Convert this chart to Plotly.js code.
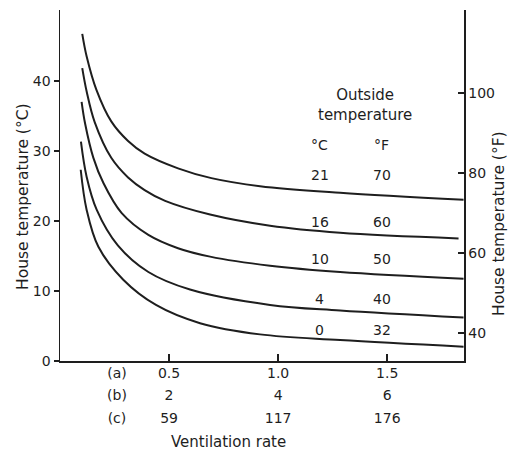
<!DOCTYPE html>
<html>
<head>
<meta charset="utf-8">
<script src="https://cdn.plot.ly/plotly-3.0.1.min.js"></script>
<style>html,body{margin:0;padding:0;background:#fff;}#chart{width:508px;height:453px;}</style>
</head>
<body>
<div id="chart"></div>
<script>
// ---- data ----
// Ventilation rate (row a units) and house temperature (°C) for each outside temperature
const outsideC = [21, 16, 10, 4, 0];
const outsideF = [70, 60, 50, 40, 32];

const x21 = [0.102, 0.122, 0.167, 0.235, 0.312, 0.388, 0.541, 0.694, 0.917, 1.284, 1.85];
const y21 = [46.7, 43.5, 38.7, 34.2, 31.4, 29.6, 27.5, 26.1, 24.95, 24.0, 23.0];
const x16 = [0.102, 0.122, 0.159, 0.235, 0.312, 0.388, 0.482, 0.688, 0.963, 1.284, 1.827];
const y16 = [41.8, 38.5, 34.1, 29.0, 26.2, 24.4, 22.85, 20.9, 19.3, 18.3, 17.5];
const x10 = [0.099, 0.115, 0.153, 0.199, 0.283, 0.405, 0.541, 0.688, 0.963, 1.284, 1.85];
const y10 = [37.0, 33.9, 29.0, 25.4, 21.1, 18.0, 16.1, 14.9, 13.6, 12.7, 11.75];
const x4 = [0.096, 0.122, 0.168, 0.265, 0.405, 0.596, 0.963, 1.284, 1.85];
const y4 = [31.3, 26.3, 21.6, 16.5, 12.7, 10.2, 8.0, 7.2, 6.2];
const x0 = [0.095, 0.122, 0.176, 0.29, 0.44, 0.642, 0.917, 1.284, 1.85];
const y0 = [27.3, 21.6, 16.3, 11.6, 8.0, 5.4, 3.8, 3.0, 2.05];

// x tick values and the three rows of tick labels
const xTickVals = [0.5, 1.0, 1.5];
const rowA = ["0.5", "1.0", "1.5"];
const rowB = ["2", "4", "6"];
const rowC = ["59", "117", "176"];
const rowNames = ["(a)", "(b)", "(c)"];

const yTickValsC = [0, 10, 20, 30, 40];
const yTickValsF = [40, 60, 80, 100];

// ---- presentation ----
const INK = "#1e1e1e";
const FONT = {family: "DejaVu Sans", size: 14, color: INK};
const WORDS = {family: "DejaVu Sans", size: 15, color: INK};
const TITLE = {family: "DejaVu Sans", size: 15.5, color: INK};
const rowNameX = 0.261;
const legendColC = 1.19, legendColF = 1.475;
const legendRowY = [26.6, 19.9, 14.6, 8.8, 4.4];
const legendHeadY = 30.9;

const xs = [x21, x16, x10, x4, x0];
const ys = [y21, y16, y10, y4, y0];
const traces = xs.map((x, i) => ({
  type: "scatter", mode: "lines", x: x, y: ys[i],
  line: {color: INK, width: 2, shape: "spline", smoothing: 1},
  hoverinfo: "skip", showlegend: false
}));
// empty traces to register the extra axes
traces.push({type: "scatter", x: [], y: [], xaxis: "x2", yaxis: "y", showlegend: false, hoverinfo: "skip"});
traces.push({type: "scatter", x: [], y: [], xaxis: "x3", yaxis: "y", showlegend: false, hoverinfo: "skip"});
traces.push({type: "scatter", x: [], y: [], xaxis: "x4", yaxis: "y", showlegend: false, hoverinfo: "skip"});
traces.push({type: "scatter", x: [], y: [], xaxis: "x", yaxis: "y2", showlegend: false, hoverinfo: "skip"});

const xRange = [0, 1.852];
function rowAxis(texts, name, standoff) {
  return {
    overlaying: "x", anchor: "y", side: "bottom", range: xRange,
    tickmode: "array", tickvals: [rowNameX].concat(xTickVals),
    ticktext: [name].concat(texts), ticks: "", showline: false,
    showgrid: false, zeroline: false, tickfont: FONT, ticklabelstandoff: standoff
  };
}

const annotations = [];
outsideC.forEach((c, i) => {
  annotations.push({x: legendColC, y: legendRowY[i], xref: "x", yref: "y", text: String(c),
    showarrow: false, font: FONT, xanchor: "center", yanchor: "middle"});
  annotations.push({x: legendColF, y: legendRowY[i], xref: "x", yref: "y", text: String(outsideF[i]),
    showarrow: false, font: FONT, xanchor: "center", yanchor: "middle"});
});
annotations.push({x: legendColC, y: legendHeadY, xref: "x", yref: "y", text: "°C", showarrow: false,
  font: FONT, xanchor: "center", yanchor: "middle"});
annotations.push({x: legendColF, y: legendHeadY, xref: "x", yref: "y", text: "°F", showarrow: false,
  font: FONT, xanchor: "center", yanchor: "middle"});
annotations.push({x: 1.397, y: 36.5, xref: "x", yref: "y", text: "Outside<br>temperature", showarrow: false,
  font: WORDS, xanchor: "center", yanchor: "middle"});
annotations.push({x: 0.416, y: -0.231, xref: "paper", yref: "paper", text: "Ventilation rate",
  showarrow: false, font: WORDS, xanchor: "center", yanchor: "middle"});
annotations.push({x: -0.0917, y: 0.47, xref: "paper", yref: "paper", text: "House temperature (°C)",
  textangle: -90, showarrow: false, font: TITLE, xanchor: "center", yanchor: "middle"});
annotations.push({x: 1.0865, y: 0.393, xref: "paper", yref: "paper", text: "House temperature (°F)",
  textangle: -90, showarrow: false, font: TITLE, xanchor: "center", yanchor: "middle"});

const layout = {
  width: 508, height: 453,
  margin: {l: 60, r: 44, t: 10, b: 92},
  paper_bgcolor: "#fff", plot_bgcolor: "#fff",
  font: FONT,
  showlegend: false,
  xaxis: {
    range: xRange, tickmode: "array", tickvals: xTickVals, ticktext: rowA,
    showticklabels: false, ticks: "inside", ticklen: 7, tickwidth: 1.5, tickcolor: INK,
    showline: true, linecolor: INK, linewidth: 1.5, showgrid: false, zeroline: false
  },
  xaxis2: rowAxis(rowA, rowNames[0], 2),
  xaxis3: rowAxis(rowB, rowNames[1], 24),
  xaxis4: rowAxis(rowC, rowNames[2], 47),
  yaxis: {
    range: [0, 50.1], tickmode: "array", tickvals: yTickValsC,
    ticks: "outside", ticklen: 5, tickwidth: 1.5, tickcolor: INK,
    showline: true, linecolor: INK, linewidth: 1.5, showgrid: false, zeroline: false,
    tickfont: FONT
  },
  yaxis2: {
    overlaying: "y", side: "right", anchor: "x", range: [33, 120.8],
    tickmode: "array", tickvals: yTickValsF,
    ticks: "inside", ticklen: 6, tickwidth: 1.5, tickcolor: INK,
    showline: true, linecolor: INK, linewidth: 1.5, showgrid: false, zeroline: false,
    tickfont: FONT
  },
  annotations: annotations
};

Plotly.newPlot("chart", traces, layout, {staticPlot: true, displayModeBar: false});
</script>
</body>
</html>
